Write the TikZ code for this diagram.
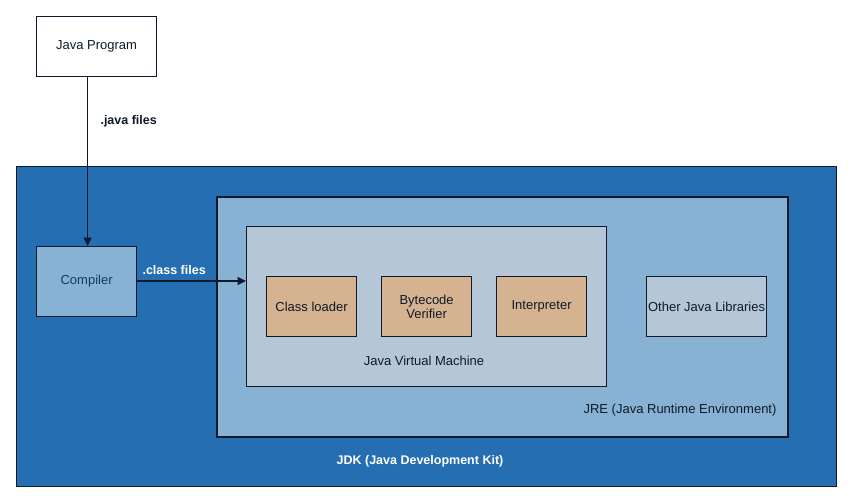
\documentclass[tikz,border=0pt]{standalone}
\usepackage{fontspec}
\setmainfont{Liberation Sans}
\usetikzlibrary{arrows.meta}
\definecolor{jdkblue}{HTML}{256EB1}
\definecolor{jreblue}{HTML}{88B2D3}
\definecolor{jvmgray}{HTML}{B5C6D6}
\definecolor{tan}{HTML}{D5B290}
\definecolor{ink}{HTML}{0E1A2B}
\tikzset{
  txt/.style={font=\fontsize{13}{15}\selectfont, text=ink},
  btxt/.style={font=\bfseries\fontsize{12.5}{15}\selectfont},
  box/.style={draw=ink, line width=1.2pt, inner sep=0pt, txt, align=center},
  arr/.style={draw=ink, line width=1.1pt, -{Triangle[length=8.5pt,width=8pt]}},
}
\begin{document}
\begin{tikzpicture}[x=1pt,y=-1pt]
\useasboundingbox (0,0) rectangle (853,503);
\fill[white] (0,0) rectangle (853,503);
% JDK
\node[box, fill=jdkblue, minimum width=820pt, minimum height=320pt, anchor=north west] (jdk) at (16,166) {};
\node[btxt, text=white] (jdkl) at (420,461) {JDK (Java Development Kit)};
% JRE
\node[box, fill=jreblue, line width=1.7pt, minimum width=571pt, minimum height=240pt, anchor=north west] (jre) at (216,196) {};
\node[txt] (jrel) at (680,410) {JRE (Java Runtime Environment)};
% JVM
\node[box, fill=jvmgray, minimum width=360pt, minimum height=160pt, anchor=north west] (jvm) at (246,226) {};
\node[txt] (jvml) at (424,361) {Java Virtual Machine};
% inner boxes
\node[box, fill=tan, minimum width=90pt, minimum height=60pt, anchor=north west] (cl) at (266,276) {Class loader};
\node[box, fill=tan, minimum width=90pt, minimum height=60pt, anchor=north west] (bv) at (381,276) {Bytecode\\[-1pt]Verifier};
\node[box, fill=tan, minimum width=90pt, minimum height=60pt, anchor=north west] (ip) at (496,276) {Interpreter};
\node[box, fill=jvmgray, minimum width=120pt, minimum height=60pt, anchor=north west] (ojl) at (646,276) {Other Java Libraries};
% left boxes
\node[box, fill=white, minimum width=120pt, minimum height=60pt, anchor=north west] (jp) at (36,16) {Java Program};
\node[box, fill=jreblue, minimum width=100pt, minimum height=70pt, anchor=north west, text=jdkblue!55!black] (comp) at (36,246) {Compiler};
% arrows
\draw[arr] ([xshift=-9pt]jp.south) -- ([xshift=1pt]comp.north);
\node[btxt, text=ink, anchor=west] (jf) at (97,121) {.java files};
\coordinate (jvmin) at (246,281);
\draw[arr] (comp.east |- jvmin) -- (jvmin);
\node[btxt, text=white, anchor=west] (cf) at (139,270) {.class files};
\end{tikzpicture}
\end{document}
